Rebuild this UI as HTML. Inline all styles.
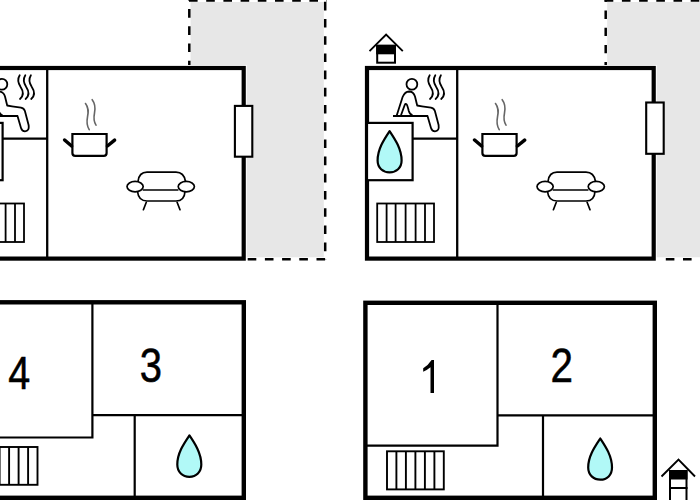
<!DOCTYPE html>
<html><head><meta charset="utf-8"><style>
html,body{margin:0;padding:0;background:#fff;width:700px;height:500px;overflow:hidden}
svg{display:block}
text{font-family:"Liberation Sans",sans-serif}
</style></head><body>
<svg width="700" height="500" viewBox="0 0 700 500">
<!-- gray areas -->
<path d="M190.6,2 H323.8 V257.2 H246 V66 H190.6 Z" fill="#e7e7e7"/>
<path d="M607.2,2 H700 V257.2 H656 V66 H607.2 Z" fill="#e7e7e7"/>
<g stroke="#000" stroke-width="2.5" fill="none">
<line x1="189.3" y1="0" x2="189.3" y2="66" stroke-dasharray="8.6 8.6" stroke-dashoffset="8.1"/>
<line x1="189" y1="0.5" x2="327" y2="0.5" stroke-dasharray="8.6 8.6"/>
<line x1="325.2" y1="0" x2="325.2" y2="260" stroke-dasharray="8.6 8.6" stroke-dashoffset="-1.8"/>
<line x1="247.7" y1="259.3" x2="326" y2="259.3" stroke-dasharray="8.6 8.6"/>
<line x1="605.7" y1="0" x2="605.7" y2="66" stroke-dasharray="8.4 8.8" stroke-dashoffset="6.7"/>
<line x1="604.7" y1="0.5" x2="700" y2="0.5" stroke-dasharray="8.6 8.6"/>
<line x1="665.8" y1="259.3" x2="700" y2="259.3" stroke-dasharray="8.6 8.6"/>
</g>
<g transform="translate(-410,0)">
<rect x="367" y="68" width="286.7" height="190.6" fill="#fff" stroke="#fff" stroke-width="6"/>
<rect x="367" y="68" width="286.7" height="190.6" fill="#fff" stroke="#000" stroke-width="4.2"/>
<line x1="457.2" y1="68" x2="457.2" y2="258" stroke="#000" stroke-width="2.3"/>
<line x1="412.6" y1="138.6" x2="457.2" y2="138.6" stroke="#000" stroke-width="2.2"/>
<rect x="367" y="122.9" width="45.6" height="57.3" fill="#fff" stroke="#000" stroke-width="2.2"/>
<path d="M389.6,131.1 C384,139.5 377.6,149 377.6,160.5 C377.6,168 383,172.4 389.6,172.4 C396.2,172.4 401.6,168 401.6,160.5 C401.6,149 395.2,139.5 389.6,131.1 Z" fill="#b1f9f7" stroke="#000" stroke-width="2.2" stroke-linejoin="round"/>
<rect x="377.2" y="203.5" width="56.8" height="38.5" fill="#fff" stroke="#000" stroke-width="1.8"/>
<path d="M386.6,203.5 V242 M395.6,203.5 V242 M405.6,203.5 V242 M415.6,203.5 V242 M425,203.5 V242" stroke="#000" stroke-width="1.8"/>
<!-- sauna person -->
<circle cx="411.9" cy="84.3" r="5.4" fill="#fff" stroke="#000" stroke-width="1.8"/>
<path d="M396.8,115.2 L402.6,97 Q405,91.6 409,91.5 Q413.5,91.5 415,96.5 L417.2,105.5 L422,106.3 L431,107.6 Q434,108.2 434.9,111 L438.6,125 Q439.5,131.2 435,131.3 Q432,131.3 431,128 L427.5,116" fill="#fff" stroke="#000" stroke-width="1.8" stroke-linejoin="round" stroke-linecap="round"/>
<path d="M401,115.2 L404.8,104.8 Q405.6,103.3 406.8,104.6 Q407.6,106 408.8,111 Q409.8,114.6 412.5,115.2" fill="none" stroke="#000" stroke-width="1.8" stroke-linejoin="round"/>
<line x1="393" y1="116" x2="428" y2="116" stroke="#000" stroke-width="1.8"/>
<g fill="none" stroke="#000" stroke-width="1.8" stroke-linecap="round">
<path d="M429.7,75.2 C427.6,78.5 427.8,82.5 430.5,86.8 C433.6,91.5 434.2,95.5 430.0,99"/>
<path d="M435.3,75.2 C433.2,78.5 433.4,82.5 436.1,86.8 C439.2,91.5 439.8,95.5 435.6,99"/>
<path d="M440.9,75.2 C438.8,78.5 439.0,82.5 441.7,86.8 C444.8,91.5 445.4,95.5 441.2,99"/>
</g>
<!-- pot -->
<path d="M482.4,134 H516.6 V153 Q516.6,155.8 513.8,155.8 H485.2 Q482.4,155.8 482.4,153 Z" fill="#fff" stroke="#000" stroke-width="2.2"/>
<path d="M474.6,140 L481.6,146 M517.4,146 L524.6,140.2" stroke="#000" stroke-width="3.5" stroke-linecap="round"/>
<g fill="none" stroke="#666" stroke-width="1.6" stroke-linecap="round">
<path d="M495.5,103.5 C499,108 498.5,112 497.5,117 C496.5,122 497,126 499.2,129.7"/>
<path d="M502.2,99.7 C505.5,104 505.5,108 504.5,113 C503.5,118 504,122 506,125.2"/>
</g>
<!-- sofa -->
<g fill="none" stroke="#000" stroke-width="1.7" stroke-linecap="round">
<path d="M548,181.5 Q549,172.2 557,172.2 H586 Q594,172.2 595.5,181.5"/>
<path d="M553.4,190 H587.7"/>
<path d="M547.5,191.5 Q548.5,201 557,201 H586 Q594.5,201 595,191.5"/>
<path d="M556.3,202.3 L553.4,209.7 M587.1,202.3 L590,209.7"/>
<ellipse cx="545.1" cy="186.6" rx="8.1" ry="5.2" fill="#fff"/>
<ellipse cx="596.3" cy="186.6" rx="8.1" ry="5.2" fill="#fff"/>
</g>
</g>
<g>
<rect x="367" y="68" width="286.7" height="190.6" fill="#fff" stroke="#fff" stroke-width="6"/>
<rect x="367" y="68" width="286.7" height="190.6" fill="#fff" stroke="#000" stroke-width="4.2"/>
<line x1="457.2" y1="68" x2="457.2" y2="258" stroke="#000" stroke-width="2.3"/>
<line x1="412.6" y1="138.6" x2="457.2" y2="138.6" stroke="#000" stroke-width="2.2"/>
<rect x="367" y="122.9" width="45.6" height="57.3" fill="#fff" stroke="#000" stroke-width="2.2"/>
<path d="M389.6,131.1 C384,139.5 377.6,149 377.6,160.5 C377.6,168 383,172.4 389.6,172.4 C396.2,172.4 401.6,168 401.6,160.5 C401.6,149 395.2,139.5 389.6,131.1 Z" fill="#b1f9f7" stroke="#000" stroke-width="2.2" stroke-linejoin="round"/>
<rect x="377.2" y="203.5" width="56.8" height="38.5" fill="#fff" stroke="#000" stroke-width="1.8"/>
<path d="M386.6,203.5 V242 M395.6,203.5 V242 M405.6,203.5 V242 M415.6,203.5 V242 M425,203.5 V242" stroke="#000" stroke-width="1.8"/>
<!-- sauna person -->
<circle cx="411.9" cy="84.3" r="5.4" fill="#fff" stroke="#000" stroke-width="1.8"/>
<path d="M396.8,115.2 L402.6,97 Q405,91.6 409,91.5 Q413.5,91.5 415,96.5 L417.2,105.5 L422,106.3 L431,107.6 Q434,108.2 434.9,111 L438.6,125 Q439.5,131.2 435,131.3 Q432,131.3 431,128 L427.5,116" fill="#fff" stroke="#000" stroke-width="1.8" stroke-linejoin="round" stroke-linecap="round"/>
<path d="M401,115.2 L404.8,104.8 Q405.6,103.3 406.8,104.6 Q407.6,106 408.8,111 Q409.8,114.6 412.5,115.2" fill="none" stroke="#000" stroke-width="1.8" stroke-linejoin="round"/>
<line x1="393" y1="116" x2="428" y2="116" stroke="#000" stroke-width="1.8"/>
<g fill="none" stroke="#000" stroke-width="1.8" stroke-linecap="round">
<path d="M429.7,75.2 C427.6,78.5 427.8,82.5 430.5,86.8 C433.6,91.5 434.2,95.5 430.0,99"/>
<path d="M435.3,75.2 C433.2,78.5 433.4,82.5 436.1,86.8 C439.2,91.5 439.8,95.5 435.6,99"/>
<path d="M440.9,75.2 C438.8,78.5 439.0,82.5 441.7,86.8 C444.8,91.5 445.4,95.5 441.2,99"/>
</g>
<!-- pot -->
<path d="M482.4,134 H516.6 V153 Q516.6,155.8 513.8,155.8 H485.2 Q482.4,155.8 482.4,153 Z" fill="#fff" stroke="#000" stroke-width="2.2"/>
<path d="M474.6,140 L481.6,146 M517.4,146 L524.6,140.2" stroke="#000" stroke-width="3.5" stroke-linecap="round"/>
<g fill="none" stroke="#666" stroke-width="1.6" stroke-linecap="round">
<path d="M495.5,103.5 C499,108 498.5,112 497.5,117 C496.5,122 497,126 499.2,129.7"/>
<path d="M502.2,99.7 C505.5,104 505.5,108 504.5,113 C503.5,118 504,122 506,125.2"/>
</g>
<!-- sofa -->
<g fill="none" stroke="#000" stroke-width="1.7" stroke-linecap="round">
<path d="M548,181.5 Q549,172.2 557,172.2 H586 Q594,172.2 595.5,181.5"/>
<path d="M553.4,190 H587.7"/>
<path d="M547.5,191.5 Q548.5,201 557,201 H586 Q594.5,201 595,191.5"/>
<path d="M556.3,202.3 L553.4,209.7 M587.1,202.3 L590,209.7"/>
<ellipse cx="545.1" cy="186.6" rx="8.1" ry="5.2" fill="#fff"/>
<ellipse cx="596.3" cy="186.6" rx="8.1" ry="5.2" fill="#fff"/>
</g>
</g>
<rect x="646.2" y="102.5" width="17.5" height="51.3" fill="#fff" stroke="#000" stroke-width="2.1"/>
<rect x="234.9" y="105.9" width="17.4" height="50.8" fill="#fff" stroke="#000" stroke-width="2.1"/>
<!-- house icon 1 -->
<g stroke="#000" fill="none">
<path d="M369.5,51.1 L386.1,34.5 L402.8,51.1" stroke-width="1.9"/>
<rect x="377.2" y="45.8" width="17.8" height="16.9" fill="#fff" stroke-width="2"/>
<rect x="376.2" y="44.8" width="19.8" height="9.5" fill="#000" stroke="none"/>
</g>
<!-- house icon 2 -->
<g stroke="#000" fill="none">
<path d="M661.5,476.5 L678.5,459.5 L695,476.5" stroke-width="1.9"/>
<rect x="670" y="471" width="16.5" height="40" fill="#fff" stroke-width="2"/>
<rect x="669" y="470" width="18.5" height="9.5" fill="#000" stroke="none"/>
<line x1="669" y1="488" x2="687.5" y2="488" stroke-width="2"/>
</g>
<!-- bottom right plan -->
<g stroke="#000" fill="none">
<rect x="365.4" y="302.8" width="289.4" height="195" stroke-width="4.4"/>
<path d="M497.5,302.8 V445.6 H365.4" stroke-width="2.2"/>
<path d="M497.5,415.4 H654.8 M543,415.4 V497.8" stroke-width="2.2"/>
<rect x="387" y="451.3" width="56.8" height="38.1" stroke-width="1.9"/>
<path d="M396.4,451.3 V489.4 M405.9,451.3 V489.4 M415.4,451.3 V489.4 M424.9,451.3 V489.4 M434.4,451.3 V489.4" stroke-width="1.9"/>
</g>
<path d="M600.3,438.5 C595,446.5 588.2,456 588.2,467.5 C588.2,475 593.5,479.7 600.3,479.7 C607.1,479.7 612,475 612,467.5 C612,456 605.6,446.5 600.3,438.5 Z" fill="#b1f9f7" stroke="#000" stroke-width="2.2" stroke-linejoin="round"/>
<path d="M434,360 V393 H430.5 V367.3 Q427,370.2 423.2,371.8 V368.3 Q428,365.5 431.6,360 Z" fill="#000"/>
<text transform="translate(561.8,381.7) scale(0.88,1.03)" font-size="46" text-anchor="middle" fill="#000" stroke="#000" stroke-width="0.5">2</text>
<!-- bottom left plan -->
<g stroke="#000" fill="none">
<rect x="-48" y="302.3" width="291.8" height="195.5" stroke-width="4.4"/>
<path d="M92.4,302.3 V437.5 H-48" stroke-width="2.2"/>
<path d="M92.4,415.2 H243.8 M134.7,415.2 V497.8" stroke-width="2.2"/>
<rect x="-19.5" y="447" width="57" height="37.8" stroke-width="1.9"/>
<path d="M-0.4,447 V484.8 M9.1,447 V484.8 M18.6,447 V484.8 M28.1,447 V484.8" stroke-width="1.9"/>
</g>
<path d="M189.4,435.4 C184,443.4 177.3,453 177.3,464.5 C177.3,472 182.5,476.8 189.4,476.8 C196.2,476.8 201.3,472 201.3,464.5 C201.3,453 194.8,443.4 189.4,435.4 Z" fill="#b1f9f7" stroke="#000" stroke-width="2.2" stroke-linejoin="round"/>
<text transform="translate(19.3,388.7) scale(0.86,1.02)" font-size="46" text-anchor="middle" fill="#000" stroke="#000" stroke-width="0.5">4</text>
<text transform="translate(151,381.8) scale(0.87,1.04)" font-size="46" text-anchor="middle" fill="#000" stroke="#000" stroke-width="0.5">3</text>
</svg>
</body></html>
